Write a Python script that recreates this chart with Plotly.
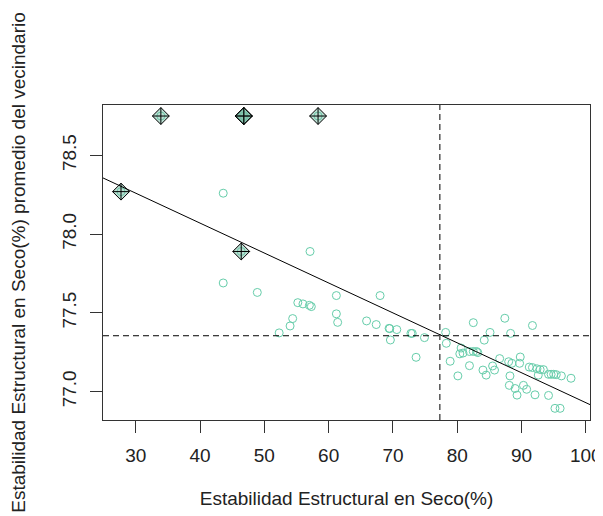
import plotly.graph_objects as go

# ordinary observations (x, spatially lagged x)
obs_x = [43.6, 57.1, 43.6, 48.9, 55.2, 56.0, 57.0, 57.3, 54.4, 54.0, 52.3, 61.2, 68.0, 61.2,
         61.4, 65.9, 67.4, 69.4, 69.5, 70.6, 69.6, 72.8, 73.0, 74.9, 73.6, 82.5, 87.4, 91.7,
         78.2, 78.3, 85.1, 84.2, 88.3, 80.6, 80.9, 80.4, 81.9, 82.5, 83.0, 83.2, 78.9, 81.9,
         80.1, 84.0, 84.5, 85.5, 85.8, 86.6, 88.0, 88.5, 89.8, 89.7, 91.2, 91.7, 92.4, 92.9,
         93.4, 92.6, 94.2, 94.6, 95.0, 95.4, 96.2, 97.7, 88.2, 88.1, 89.0, 90.3, 90.8, 89.3,
         92.1, 94.2, 95.2, 96.0]
obs_wx = [78.26, 77.89, 77.69, 77.63, 77.565, 77.557, 77.548, 77.54, 77.464, 77.417, 77.373,
          77.61, 77.61, 77.494, 77.44, 77.449, 77.426, 77.402, 77.40, 77.394, 77.328, 77.37,
          77.37, 77.343, 77.218, 77.438, 77.466, 77.42, 77.376, 77.307, 77.376, 77.327, 77.37,
          77.277, 77.245, 77.24, 77.255, 77.255, 77.255, 77.248, 77.193, 77.165, 77.10, 77.137,
          77.105, 77.163, 77.137, 77.21, 77.19, 77.18, 77.22, 77.18, 77.156, 77.153, 77.145,
          77.14, 77.14, 77.105, 77.11, 77.11, 77.11, 77.108, 77.10, 77.085, 77.10, 77.04,
          77.02, 77.04, 77.015, 76.978, 76.98, 76.976, 76.894, 76.894]

# influential observations
infl_x = [27.7, 33.9, 46.8, 46.8, 46.8, 58.35, 46.4]
infl_wx = [78.27, 78.75, 78.75, 78.75, 78.75, 78.75, 77.89]

# regression of lag on x, and the means
reg_intercept = 78.83
reg_slope = -0.019
mean_x = 77.3
mean_wx = 77.355

x_range = [24.9, 100.65]
y_range = [76.82, 78.82]
x_ticks = [30, 40, 50, 60, 70, 80, 90, 100]
y_ticks = [77.0, 77.5, 78.0, 78.5]

green = "#66CDAA"
font = "Liberation Sans, Arial, sans-serif"

fig = go.Figure()

fig.add_trace(go.Scatter(
    x=obs_x + infl_x, y=obs_wx + infl_wx, mode="markers",
    marker=dict(symbol="circle-open", size=8, color=green, line=dict(width=1, color=green)),
    showlegend=False, hoverinfo="skip"))

fig.add_trace(go.Scatter(
    x=infl_x, y=infl_wx, mode="markers",
    marker=dict(symbol="diamond-cross", size=13, color="rgba(120,190,165,0.5)",
                line=dict(width=1, color="black")),
    showlegend=False, hoverinfo="skip"))

fig.add_trace(go.Scatter(
    x=x_range, y=[reg_intercept + reg_slope * v for v in x_range], mode="lines",
    line=dict(color="black", width=1), showlegend=False, hoverinfo="skip"))

fig.add_vline(x=mean_x, line=dict(color="black", width=1, dash="6px,4px"))
fig.add_hline(y=mean_wx, line=dict(color="black", width=1, dash="6px,4px"))

# the page body has an 8px margin, so the figure is sized to fill the rest of the window
fig.update_layout(
    width=595, height=508,
    margin=dict(l=95, r=13, t=97, b=96, autoexpand=False),
    paper_bgcolor="white", plot_bgcolor="white",
    font=dict(family=font, size=19, color="#222"),
)

fig.update_xaxes(
    range=x_range, tickvals=x_ticks, ticktext=[str(v) for v in x_ticks],
    showgrid=False, zeroline=False, showline=True, mirror=True, automargin=False,
    linecolor="#333", linewidth=1, ticks="outside", ticklen=12, tickcolor="#333",
    tickfont=dict(size=19), ticklabelstandoff=6,
    title=dict(text="Estabilidad Estructural en Seco(%)", font=dict(size=19), standoff=26),
)
fig.update_yaxes(
    range=y_range, tickvals=y_ticks, ticktext=[f"{v:.1f}" for v in y_ticks],
    showgrid=False, zeroline=False, showline=True, mirror=True, automargin=False,
    linecolor="#333", linewidth=1, ticks="outside", ticklen=12, tickcolor="#333",
    tickfont=dict(size=19), tickangle=-90, ticklabelstandoff=6,
    title=dict(text="Estabilidad Estructural en Seco(%) promedio del vecindario",
               font=dict(size=19), standoff=35),
)

fig.write_html("out.html")
